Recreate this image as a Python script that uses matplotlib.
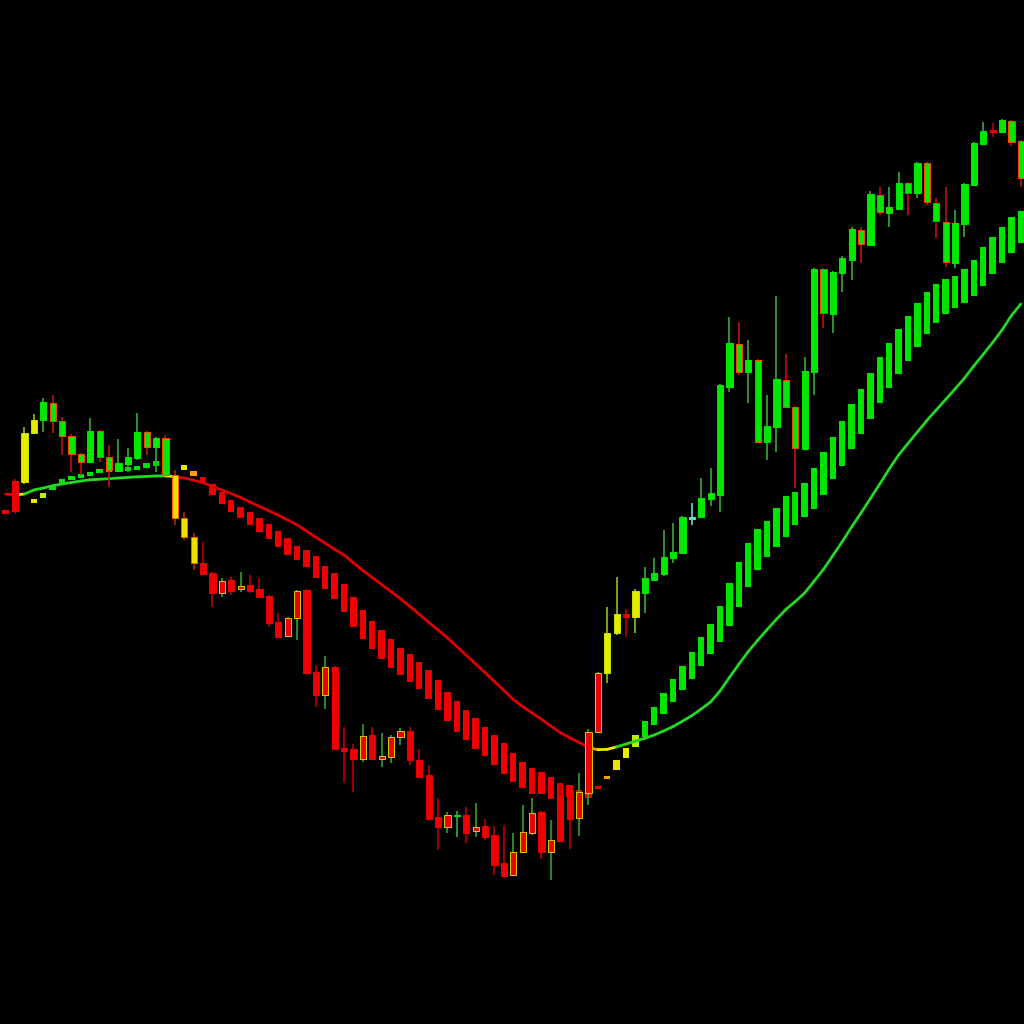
import numpy as np
import matplotlib
matplotlib.use("Agg")
import matplotlib.pyplot as plt
from matplotlib.collections import LineCollection

# candle data, bars 0..107 (price in points)
opens = [543, 542, 591, 604, 621, 603, 588, 570, 562, 593,
         567, 553, 560, 566, 592, 577, 586, 549, 506, 487,
         461, 451, 431, 444, 435, 439, 435, 428, 402, 388,
         406, 434, 352, 329, 357, 276, 275, 265, 289, 265,
         267, 287, 293, 264, 249, 207, 197, 208, 209, 193,
         198, 189, 161, 149, 172, 191, 212, 172, 229, 234,
         206, 231, 292, 351, 391, 410, 407, 431, 444, 450,
         466, 471, 505.5, 507, 525, 529, 637, 680, 652, 664,
         582, 597, 644, 617, 575, 652, 755, 710, 751, 764,
         794, 779, 829, 811, 815, 841, 831, 861, 821, 802,
         761, 800, 839, 880, 893.5, 892, 903, 883]
highs = [545, 597, 610, 626, 629, 607, 590, 571, 606, 594,
         579, 585, 576, 611, 593, 587, 589, 554, 512, 491,
         482, 452, 446, 447, 452, 449, 446, 429, 411, 407,
         434, 435, 358, 368, 358, 297, 280, 300, 297, 291,
         289, 296, 297, 275, 259, 226, 212, 213, 217, 221,
         205, 198, 198, 191, 219, 226, 213, 204, 241, 236,
         251, 295, 352, 417, 447, 415, 435, 457, 466, 494,
         501, 508, 521, 546, 556, 640, 707, 702, 684, 665,
         629, 728, 670, 618, 667, 756, 756, 753, 768, 797,
         797, 833, 837, 837, 852, 842, 862, 862, 826, 837,
         814, 841, 882, 902, 901, 905, 904, 884]
lows = [510, 540, 590, 592, 591, 569, 552, 549, 561, 562,
        537, 552, 552, 564, 569, 552, 548, 499, 484, 454,
        449, 417, 427, 429, 432, 431, 426, 397, 386, 387,
        384, 349, 317, 315, 274, 241, 232, 262, 264, 257,
        261, 279, 259, 246, 204, 174, 191, 187, 181, 187,
        184, 149, 146, 148, 171, 189, 165, 144, 182, 175,
        188, 219, 291, 341, 389, 387, 391, 411, 443, 448,
        461, 470, 499, 506, 518, 512, 632, 649, 621, 581,
        564, 572, 616, 536, 574, 629, 696, 691, 732, 744,
        761, 778, 809, 797, 814, 809, 826, 819, 786, 757,
        756, 787, 838, 879, 887, 891, 878, 837]
closes = [513, 591, 604, 622, 603, 588, 570, 562, 593, 567,
          554, 561, 567, 592, 577, 586, 549, 506, 487, 461,
          450, 431, 443, 433, 438, 433, 427, 401, 387, 406,
          433, 351, 329, 357, 275, 273, 265, 288, 265, 268,
          287, 293, 264, 247, 205, 197, 209, 209.5, 191, 197,
          187, 159, 148, 172, 192, 211, 172, 184, 183, 205,
          232, 292, 351, 391, 410, 407, 433, 446, 451, 467,
          472, 507, 507, 526, 531, 639, 681, 652, 664, 582,
          598, 645, 617, 576, 653, 755, 711, 752, 766, 795,
          780, 830, 812, 817, 841, 831, 861, 822, 803, 762,
          801, 840, 881, 893, 892.5, 904, 882, 846]
kinds = ["R", "Y", "Y", "G", "GR", "GR", "GR", "GR", "G", "GR",
         "GR", "G", "G", "G", "GR", "G", "GR", "YR", "YR", "YR",
         "R", "R", "RG", "R", "RG", "R", "R", "R", "R", "RG",
         "RG", "R", "R", "RG", "R", "R", "R", "RG", "R", "RG",
         "RG", "RG", "R", "R", "R", "R", "RG", "G", "R", "RG",
         "R", "R", "R", "RG", "RG", "RG", "R", "RG", "R", "R",
         "RG", "RG", "RG", "Y", "Y", "R", "Y", "G", "G", "G",
         "G", "G", "C", "G", "G", "G", "G", "GR", "G", "GR",
         "G", "G", "GR", "GR", "G", "G", "GR", "G", "G", "G",
         "GR", "G", "GR", "G", "G", "GR", "G", "GR", "GR", "GR",
         "G", "G", "G", "G", "R", "G", "GR", "GR"]

# trend band bars and moving average, bars -1..107
nan = np.nan
band_hi = [514, nan, nan, 525, 531.5, 539, 545, 548, 550, 552,
           555, 556, 559, 557, 558.5, 561, 563, nan, nan, 559,
           553, 547, 540, 532, 524, 517, 512, 506, 500, 493,
           486, 478, 474, 468, 458, 451, 440, 427, 414, 403,
           394, 385, 376, 370, 362, 354, 344, 332, 323, 314,
           306, 297, 289, 281, 271, 262, 256, 252, 247, 241,
           239, 234, 231, 238, 248, 264, 276, 289, 303, 317,
           331, 345, 358, 372, 387, 400, 418, 441, 462, 481,
           495, 503, 516, 528, 532, 541, 556, 572, 587, 603,
           620, 635, 651, 667, 681, 695, 708, 721, 732, 740,
           745, 748, 755, 764, 777, 787, 797, 807, 813]
band_lo = [510, nan, nan, 521, 526.5, 534, 540, 544, 546, 548,
           551, 552, 554, 553, 554, 556.5, 558.5, nan, nan, 554,
           548, 541, 529, 520, 512, 506, 499, 492, 485, 477,
           469, 464, 457, 446, 435, 425, 412, 397, 385, 375,
           365, 356, 349, 342, 335, 325, 314, 303, 292, 284,
           275, 268, 259, 250, 242, 236, 230, 230, 225, 229,
           227, 224, 226, 235, 245, 254, 266, 277, 287, 299,
           310, 322, 334, 345, 358, 370, 382, 398, 417, 437,
           454, 467, 477, 487, 499, 507, 515, 529, 545, 558,
           575, 590, 605, 621, 636, 650, 663, 677, 690, 701,
           710, 716, 721, 728, 738, 750, 761, 771, 781]
band_state = "rnnyl" + "g" * 12 + "nnyo" + "r" * 43 + "oyyl" + "g" * 41
ma = [530, 529, 530, 534, 536, 538.2, 540, 541.5, 543, 544.2,
      544.8, 545.3, 546, 546.6, 547.2, 547.6, 548, 548.2, 547.3, 546,
      543.8, 541.2, 537.7, 534, 530.3, 526.4, 522, 517.6, 513.2, 508.9,
      504, 499, 493, 486.8, 480.7, 474.7, 469, 461.2, 453.6, 446.5,
      439.5, 432.4, 425.4, 417.5, 409.7, 401.8, 394, 386.2, 377.5, 368.7,
      360, 351.3, 342.5, 333.7, 324.5, 317.5, 311, 304.7, 298, 291.4,
      286.4, 281.5, 276.6, 274.3, 274.7, 277.1, 280, 282.8, 285.8, 289,
      293, 297.4, 302.8, 308.3, 315, 322, 333, 346.5, 359.6, 372.4,
      383.6, 394.3, 404.7, 414.5, 422.4, 431, 442.7, 454.5, 468.4, 482.3,
      497, 511, 525.5, 540, 555, 569, 580.6, 592, 603.4, 614,
      624.5, 635, 645.8, 658, 669.6, 681.4, 694, 708.4, 720]
ma_state = "rry" + "g" * 15 + "y" + "r" * 44 + "oyy" + "g" * 43

line_col = {"r": "#e00000", "o": "#ff8c00", "y": "#e8e800", "g": "#22d822"}
band_col = {"r": "#ee0000", "o": "#ffa000", "y": "#e8e800", "l": "#b8f000", "g": "#00e400"}
# fill, edge, wick
styles = {
    "G": ("#00e800", "#00e800", "#38a838"),
    "GR": ("#00e800", "#ff4a00", "#c01010"),
    "R": ("#ee0000", "#ee0000", "#b80000"),
    "RG": ("#ee0000", "#d8d000", "#30a030"),
    "Y": ("#e4ec00", "#c8e000", "#90c020"),
    "YR": ("#f0e000", "#ff6000", "#c02000"),
    "C": ("#70d8c8", "#70d8c8", "#70d8c8"),
}

x = np.arange(len(opens))
xb = np.arange(-1, len(opens))

fig = plt.figure(figsize=(10.24, 10.24), dpi=100, facecolor="black")
ax = fig.add_axes([0, 0, 1, 1])
ax.set_facecolor("black")

# band bars
lo = np.array(band_lo)
hi = np.array(band_hi)
for k in range(len(xb)):
    s = band_state[k]
    if s == "n" or np.isnan(lo[k]):
        continue
    ax.bar(xb[k], hi[k] - lo[k], bottom=lo[k], width=0.68,
           color=band_col[s], linewidth=0, zorder=1)

# moving average
pts = np.column_stack([xb, ma])
segs = np.stack([pts[:-1], pts[1:]], axis=1)
seg_cols = [line_col[ma_state[k + 1]] for k in range(len(segs))]
ax.add_collection(LineCollection(segs, colors=seg_cols, linewidths=2.0, zorder=2,
                                 capstyle="round", joinstyle="round"))

# candles
for i in range(len(opens)):
    fill, edge, wick = styles[kinds[i]]
    ax.vlines(x[i], lows[i], highs[i], color=wick, linewidth=1.2, zorder=3)
    b = min(opens[i], closes[i])
    h = max(abs(closes[i] - opens[i]), 1.2)
    ax.bar(x[i], h, bottom=b, width=0.66, color=fill, edgecolor=edge,
           linewidth=0.7, zorder=4)

ax.set_xlim(-1.596, 107.34)
ax.set_ylim(0, 1024)
ax.axis("off")

fig.savefig("out.png", dpi=100, facecolor="black")
